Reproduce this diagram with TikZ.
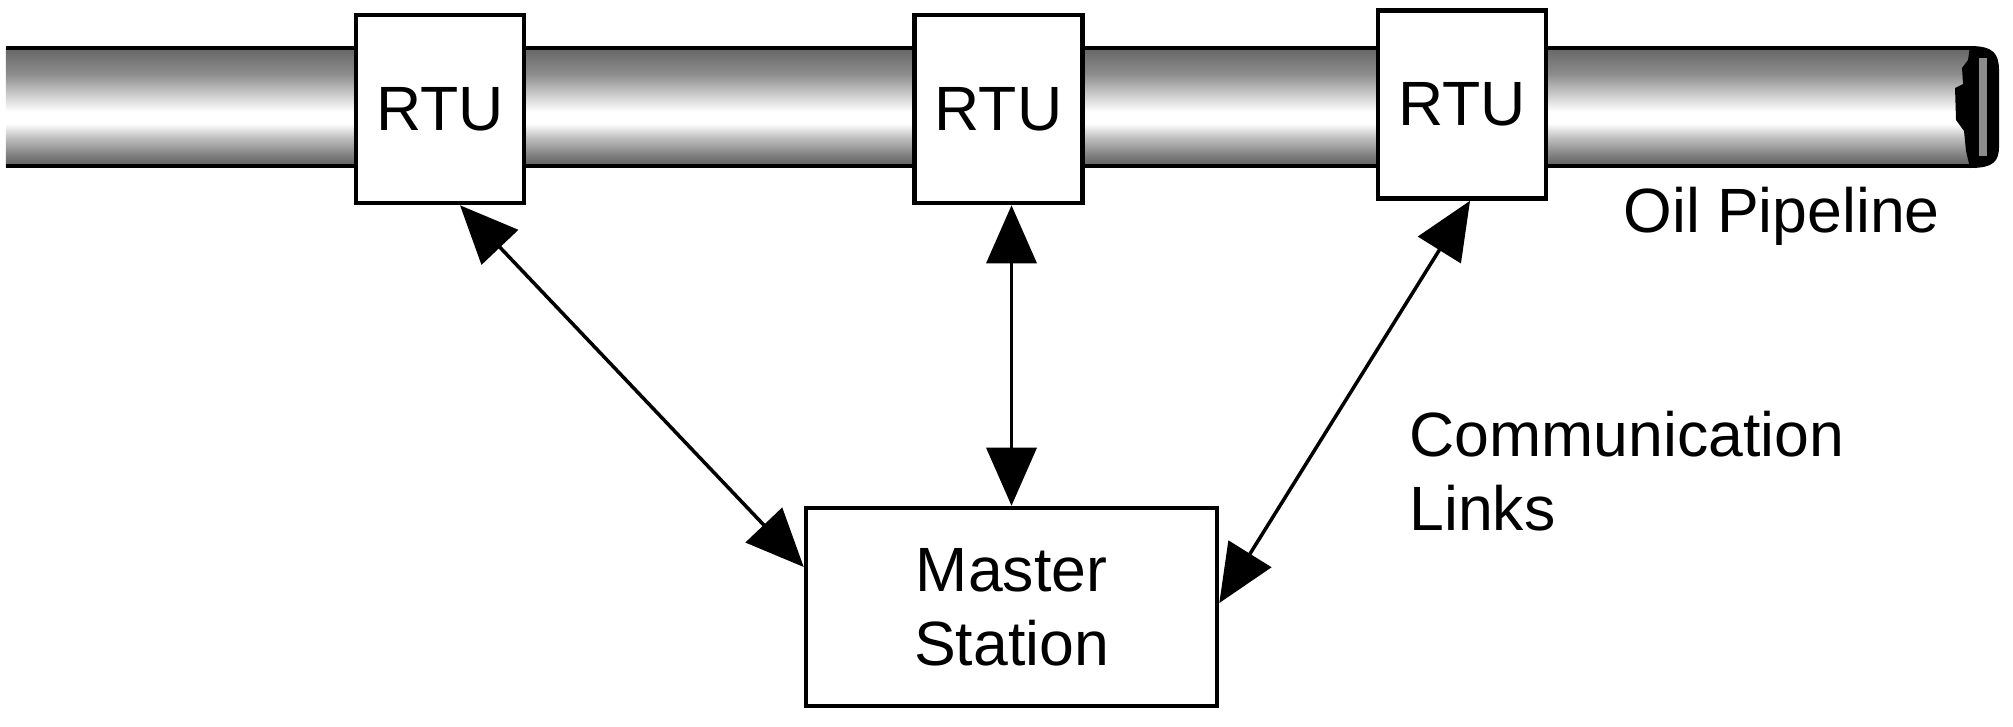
\documentclass[tikz,border=0pt]{standalone}
\usepackage{fontspec}
\setmainfont{Liberation Sans}
\usetikzlibrary{arrows.meta}

\pgfdeclareverticalshading{pipeshade}{100bp}{color(0bp)=(black!62); color(25bp)=(black!62); color(29bp)=(black!52); color(37bp)=(black!25); color(43bp)=(white); color(48bp)=(white); color(56bp)=(black!22); color(64bp)=(black!45); color(75bp)=(black!60); color(100bp)=(black!60)}

\tikzset{
  rtu/.style={draw, fill=white, line width=1.3pt, minimum width=1.68cm, minimum height=1.88cm},
  station/.style={draw, fill=white, line width=1.3pt, minimum width=4.11cm, minimum height=1.98cm, align=center},
  link/.style={{Triangle[length=0.58cm,width=0.5cm]}-{Triangle[length=0.58cm,width=0.5cm]}, line width=1pt},
}

\begin{document}
\begin{tikzpicture}[font=\fontsize{17.8}{21}\selectfont]
  \useasboundingbox (0,0) rectangle (20.13,7.26);

  %pipeline
  \shade[shading=pipeshade] (0.06,5.60) rectangle (19.80,6.78);
  \draw[line width=1pt] (0.06,6.78) -- (19.75,6.78);
  \draw[line width=1pt] (0.06,5.60) -- (19.75,5.60);

  %broken pipe end
  \fill[black] (19.70,6.80) .. controls (19.94,6.80) and (19.99,6.72) .. (19.99,6.55)
    -- (19.99,5.80) .. controls (19.99,5.65) and (19.94,5.58) .. (19.70,5.58)
    -- (19.66,5.75) -- (19.64,5.95) -- (19.56,6.06) -- (19.55,6.38)
    -- (19.63,6.42) -- (19.62,6.58) -- (19.68,6.66) -- cycle;
  \draw[black!45, line width=2.5pt] (19.83,6.68) -- (19.83,5.70);

  %RTUs
  \node[rtu] (rtuA) at (4.40,6.17) {RTU};
  \node[rtu] (rtuB) at (9.985,6.17) {RTU};
  \node[rtu] (rtuC) at (14.62,6.215) {RTU};
  \node[anchor=west] (pipeLabel) at (16.11,5.10) {Oil Pipeline};

  %master station
  \node[station] (master) at (10.115,1.19) {Master\\Station};
  \node[anchor=west, align=left] (linksLabel) at (13.97,2.55) {Communication\\Links};

  %links
  \draw[link] ([xshift=0.2cm]rtuA.south) -- ([yshift=0.4cm]master.west);
  \draw[link] (rtuB.south -| master.north) -- (master.north);
  \draw[link] ([xshift=0.08cm]rtuC.south) -- ([yshift=0.04cm]master.east);
\end{tikzpicture}
\end{document}
